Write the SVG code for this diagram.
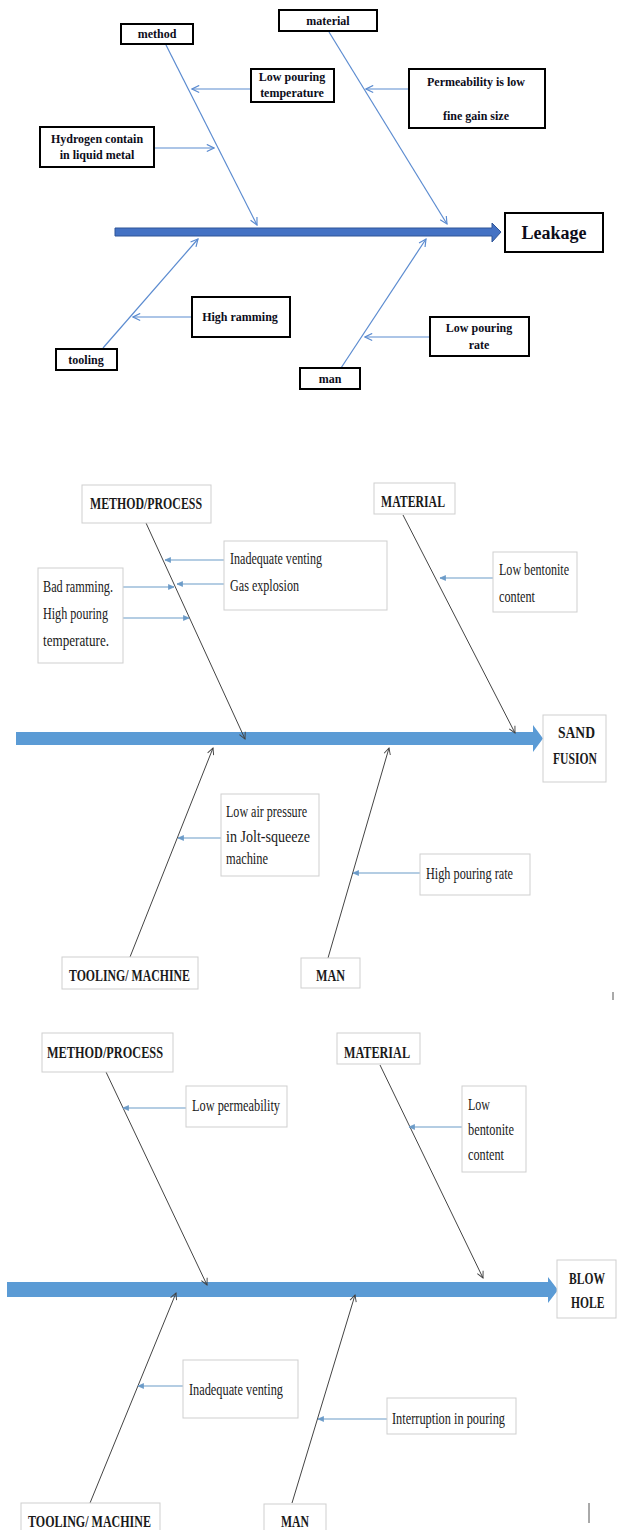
<svg xmlns="http://www.w3.org/2000/svg" width="617" height="1530" viewBox="0 0 617 1530">
<style>
.b1{fill:#fff;stroke:#000;stroke-width:2}
.b2{fill:#fff;stroke:#cfcfcf;stroke-width:1}
.t1{font-family:"Liberation Serif",serif;font-weight:bold;font-size:12px;fill:#0d0d1a;text-anchor:middle}
.tl{font-family:"Liberation Serif",serif;font-weight:bold;font-size:18px;fill:#0d0d1a;text-anchor:middle}
.th{font-family:"Liberation Serif",serif;font-weight:bold;font-size:17px;fill:#1a1a1a}
.tr{font-family:"Liberation Serif",serif;font-size:17px;fill:#1a1a1a}
.l1{stroke:#5b8bd0;stroke-width:1.2;fill:none;marker-end:url(#m1)}
.l2{stroke:#444;stroke-width:1;fill:none;marker-end:url(#m2)}
.l3{stroke:#6b9bc8;stroke-width:1.2;fill:none;marker-end:url(#m3)}
.sp1{fill:#4472c4;stroke:#2f5597;stroke-width:1}
.sp2{fill:#5b9bd5;stroke:none}
</style>
<defs>
<marker id="m1" viewBox="0 0 10 10" refX="9" refY="5" markerWidth="9" markerHeight="9" orient="auto" markerUnits="userSpaceOnUse"><path d="M1,1 L9,5 L1,9" fill="none" stroke="#5b8bd0" stroke-width="1.3"/></marker>
<marker id="m2" viewBox="0 0 10 10" refX="9" refY="5" markerWidth="8" markerHeight="8" orient="auto" markerUnits="userSpaceOnUse"><path d="M1,1 L9,5 L1,9" fill="none" stroke="#444" stroke-width="1.2"/></marker>
<marker id="m3" viewBox="0 0 10 10" refX="9" refY="5" markerWidth="7" markerHeight="7" orient="auto" markerUnits="userSpaceOnUse"><path d="M1,1.5 L9,5 L1,8.5 Z" fill="#6b9bc8" stroke="#6b9bc8" stroke-width="1"/></marker>
</defs>
<rect width="617" height="1530" fill="#fff"/>

<!-- ===== Diagram 1: Leakage ===== -->
<g id="spine1"><path class="sp1" d="M115,228 L492,228 L492,223 L501,232 L492,242 L492,236 L115,236 Z"/></g>
<g id="connectors1">
<line class="l1" x1="166" y1="45" x2="257" y2="225"/>
<line class="l1" x1="329" y1="32" x2="447" y2="224"/>
<line class="l1" x1="103" y1="348" x2="198" y2="239"/>
<line class="l1" x1="341" y1="368" x2="426" y2="239"/>
<line class="l1" x1="251" y1="89" x2="192" y2="89"/>
<line class="l1" x1="409" y1="89" x2="366" y2="89"/>
<line class="l1" x1="154" y1="148" x2="214" y2="148"/>
<line class="l1" x1="192" y1="317" x2="133" y2="317"/>
<line class="l1" x1="430" y1="337" x2="365" y2="337"/>
</g>
<g id="d1-method"><rect class="b1" x="121" y="24" width="72" height="20"/><text class="t1" x="157" y="38">method</text></g>
<g id="d1-material"><rect class="b1" x="279" y="10" width="98" height="21"/><text class="t1" x="328" y="25">material</text></g>
<g id="d1-lowtemp"><rect class="b1" x="251" y="69" width="83" height="33"/><text class="t1" x="292" y="81">Low pouring</text><text class="t1" x="292" y="97">temperature</text></g>
<g id="d1-perm"><rect class="b1" x="409" y="69" width="136" height="59"/><text class="t1" x="476" y="86">Permeability is low</text><text class="t1" x="476" y="120">fine gain size</text></g>
<g id="d1-hydrogen"><rect class="b1" x="40" y="127" width="114" height="40"/><text class="t1" x="97" y="143">Hydrogen contain</text><text class="t1" x="97" y="159">in liquid metal</text></g>
<g id="d1-leakage"><rect class="b1" x="505" y="213" width="98" height="39"/><text class="tl" x="554" y="239">Leakage</text></g>
<g id="d1-ramming"><rect class="b1" x="192" y="297" width="98" height="40"/><text class="t1" x="240" y="321">High ramming</text></g>
<g id="d1-tooling"><rect class="b1" x="56" y="349" width="61" height="21"/><text class="t1" x="86" y="364">tooling</text></g>
<g id="d1-man"><rect class="b1" x="300" y="368" width="60" height="21"/><text class="t1" x="330" y="383">man</text></g>
<g id="d1-rate"><rect class="b1" x="430" y="317" width="99" height="39"/><text class="t1" x="479" y="332">Low pouring</text><text class="t1" x="479" y="349">rate</text></g>

<!-- ===== Diagram 2: Sand fusion ===== -->
<g id="spine2"><path class="sp2" d="M16,732 L533,732 L533,725 L543,738.5 L533,752 L533,745 L16,745 Z"/></g>
<g id="connectors2">
<line class="l2" x1="146" y1="523" x2="245" y2="739"/>
<line class="l2" x1="403" y1="515" x2="515" y2="733"/>
<line class="l2" x1="130" y1="957" x2="213" y2="748"/>
<line class="l2" x1="328" y1="958" x2="389" y2="748"/>
<line class="l3" x1="224" y1="560" x2="165" y2="560"/>
<line class="l3" x1="224" y1="584" x2="177" y2="584"/>
<line class="l3" x1="123" y1="587" x2="174" y2="587"/>
<line class="l3" x1="123" y1="618" x2="189" y2="618"/>
<line class="l3" x1="493" y1="578" x2="440" y2="578"/>
<line class="l3" x1="221" y1="838" x2="178" y2="838"/>
<line class="l3" x1="420" y1="873" x2="353" y2="873"/>
</g>
<g id="d2-method"><rect class="b2" x="82" y="485" width="129" height="38"/><text class="th" x="90" y="509" textLength="112" lengthAdjust="spacingAndGlyphs">METHOD/PROCESS</text></g>
<g id="d2-material"><rect class="b2" x="374" y="483" width="81" height="31"/><text class="th" x="381" y="507" textLength="64" lengthAdjust="spacingAndGlyphs">MATERIAL</text></g>
<g id="d2-venting"><rect class="b2" x="224" y="541" width="163" height="69"/><text class="tr" x="230" y="564" textLength="92" lengthAdjust="spacingAndGlyphs">Inadequate venting</text><text class="tr" x="230" y="591" textLength="69" lengthAdjust="spacingAndGlyphs">Gas explosion</text></g>
<g id="d2-ramming"><rect class="b2" x="38" y="568" width="85" height="95"/><text class="tr" x="43" y="592" textLength="70" lengthAdjust="spacingAndGlyphs">Bad ramming.</text><text class="tr" x="43" y="619" textLength="65" lengthAdjust="spacingAndGlyphs">High pouring</text><text class="tr" x="43" y="646" textLength="66" lengthAdjust="spacingAndGlyphs">temperature.</text></g>
<g id="d2-bentonite"><rect class="b2" x="493" y="552" width="84" height="60"/><text class="tr" x="499" y="575" textLength="70" lengthAdjust="spacingAndGlyphs">Low bentonite</text><text class="tr" x="499" y="602" textLength="36" lengthAdjust="spacingAndGlyphs">content</text></g>
<g id="d2-sandfusion"><rect class="b2" x="543" y="715" width="63" height="67"/><text class="th" x="558" y="738" textLength="37" lengthAdjust="spacingAndGlyphs">SAND</text><text class="th" x="553" y="764" textLength="44" lengthAdjust="spacingAndGlyphs">FUSION</text></g>
<g id="d2-airpressure"><rect class="b2" x="221" y="794" width="98" height="82"/><text class="tr" x="226" y="817" textLength="81" lengthAdjust="spacingAndGlyphs">Low air pressure</text><text class="tr" x="226" y="842" textLength="84" lengthAdjust="spacingAndGlyphs">in Jolt-squeeze</text><text class="tr" x="226" y="864" textLength="42" lengthAdjust="spacingAndGlyphs">machine</text></g>
<g id="d2-pouringrate"><rect class="b2" x="420" y="854" width="110" height="41"/><text class="tr" x="426" y="879" textLength="87" lengthAdjust="spacingAndGlyphs">High pouring rate</text></g>
<g id="d2-tooling"><rect class="b2" x="62" y="957" width="136" height="32"/><text class="th" x="69" y="981" textLength="121" lengthAdjust="spacingAndGlyphs">TOOLING/ MACHINE</text></g>
<g id="d2-man"><rect class="b2" x="301" y="958" width="59" height="30"/><text class="th" x="316" y="981" textLength="29" lengthAdjust="spacingAndGlyphs">MAN</text></g>
<line x1="613" y1="992" x2="613" y2="1000" stroke="#555" stroke-width="1"/>

<!-- ===== Diagram 3: Blow hole ===== -->
<g id="spine3"><path class="sp2" d="M7,1282 L548,1282 L548,1277 L558,1290 L548,1303 L548,1297 L7,1297 Z"/></g>
<g id="connectors3">
<line class="l2" x1="106" y1="1072" x2="207" y2="1285"/>
<line class="l2" x1="380" y1="1065" x2="483" y2="1278"/>
<line class="l2" x1="90" y1="1503" x2="176" y2="1293"/>
<line class="l2" x1="292" y1="1503" x2="355" y2="1295"/>
<line class="l3" x1="186" y1="1108" x2="123" y2="1108"/>
<line class="l3" x1="462" y1="1127" x2="409" y2="1127"/>
<line class="l3" x1="183" y1="1386" x2="138" y2="1386"/>
<line class="l3" x1="387" y1="1419" x2="318" y2="1419"/>
</g>
<g id="d3-method"><rect class="b2" x="42" y="1033" width="131" height="39"/><text class="th" x="47" y="1058" textLength="116" lengthAdjust="spacingAndGlyphs">METHOD/PROCESS</text></g>
<g id="d3-material"><rect class="b2" x="337" y="1033" width="83" height="31"/><text class="th" x="344" y="1058" textLength="66" lengthAdjust="spacingAndGlyphs">MATERIAL</text></g>
<g id="d3-permeability"><rect class="b2" x="186" y="1086" width="101" height="41"/><text class="tr" x="192" y="1111" textLength="88" lengthAdjust="spacingAndGlyphs">Low permeability</text></g>
<g id="d3-bentonite"><rect class="b2" x="462" y="1086" width="64" height="86"/><text class="tr" x="468" y="1110" textLength="22" lengthAdjust="spacingAndGlyphs">Low</text><text class="tr" x="468" y="1135" textLength="46" lengthAdjust="spacingAndGlyphs">bentonite</text><text class="tr" x="468" y="1160" textLength="36" lengthAdjust="spacingAndGlyphs">content</text></g>
<g id="d3-blowhole"><rect class="b2" x="557" y="1260" width="59" height="58"/><text class="th" transform="translate(569,1284) scale(0.68,1)">BLOW</text><text class="th" transform="translate(571,1308) scale(0.68,1)">HOLE</text></g>
<g id="d3-venting"><rect class="b2" x="183" y="1360" width="115" height="58"/><text class="tr" x="189" y="1395" textLength="94" lengthAdjust="spacingAndGlyphs">Inadequate venting</text></g>
<g id="d3-interruption"><rect class="b2" x="387" y="1398" width="129" height="36"/><text class="tr" x="392" y="1424" textLength="113" lengthAdjust="spacingAndGlyphs">Interruption in pouring</text></g>
<g id="d3-tooling"><rect class="b2" x="21" y="1503" width="139" height="32"/><text class="th" x="28" y="1527" textLength="123" lengthAdjust="spacingAndGlyphs">TOOLING/ MACHINE</text></g>
<g id="d3-man"><rect class="b2" x="264" y="1504" width="62" height="32"/><text class="th" x="281" y="1527" textLength="28" lengthAdjust="spacingAndGlyphs">MAN</text></g>
<line x1="589" y1="1503" x2="589" y2="1523" stroke="#555" stroke-width="1"/>
</svg>
